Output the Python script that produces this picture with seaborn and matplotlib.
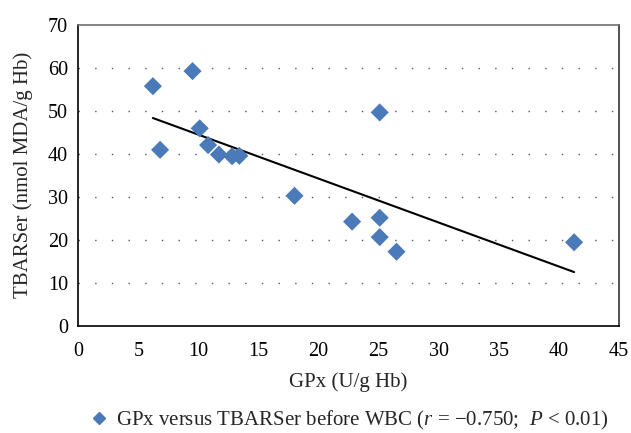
import numpy as np
import pandas as pd
import matplotlib
matplotlib.use("Agg")
import matplotlib.pyplot as plt
import seaborn as sns

gpx = [6.2, 9.5, 6.8, 10.1, 10.8, 11.7, 12.8, 13.4, 18.0, 22.8, 25.1, 25.1, 25.1, 26.5, 41.3]
tbarser = [55.7, 59.2, 40.9, 45.9, 42.0, 39.8, 39.4, 39.5, 30.2, 24.2, 49.6, 25.1, 20.6, 17.2, 19.4]
legend_label = "GPx versus TBARSer before WBC ($r$ = \u22120.750;  $P$ < 0.01)"
x_label = "GPx (U/g Hb)"
y_label = "TBARSer (nmol MDA/g Hb)"
x_ticks = list(range(0, 46, 5))
y_ticks = list(range(0, 71, 10))

df = pd.DataFrame({"GPx": gpx, "TBARSer": tbarser})

sns.set_style("white")
plt.rcParams["font.family"] = ["Liberation Serif", "DejaVu Serif"]
plt.rcParams["mathtext.fontset"] = "custom"
plt.rcParams["mathtext.rm"] = "Liberation Serif"
plt.rcParams["mathtext.it"] = "Liberation Serif:italic"

fig = plt.figure(figsize=(6.31, 4.33), dpi=100)
ax = fig.add_axes([0.1244, 0.2478, 0.8558, 0.6952])

blue = "#4a7ab7"
sns.regplot(data=df, x="GPx", y="TBARSer", ax=ax, scatter=False, ci=None,
            line_kws=dict(color="black", lw=1.5, zorder=2))
sns.scatterplot(data=df, x="GPx", y="TBARSer", ax=ax, marker="D", s=85,
                color=blue, edgecolor="none", zorder=3, legend=False)

ax.set_xlim(0, 45)
ax.set_ylim(0, 70)
ax.set_xticks(x_ticks)
ax.set_yticks(y_ticks)
ax.tick_params(axis="both", which="both", direction="out", length=4, width=1,
               labelsize=14.5, color="black", labelcolor="black")
ax.tick_params(axis="x", pad=7.5)
ax.tick_params(axis="y", pad=3.5)
for yv in y_ticks[1:-1]:
    ax.axhline(yv, color="#555555", lw=1.0, linestyle=(0, (1, 11)), zorder=1)

ax.spines["left"].set_color("black")
ax.spines["bottom"].set_color("black")
ax.spines["top"].set_color("#707070")
ax.spines["right"].set_color("#333333")
for sp in ax.spines.values():
    sp.set_linewidth(1.2)

ax.set_xlabel(x_label, fontsize=15, labelpad=8)
ax.set_ylabel(y_label, fontsize=15, labelpad=11)

handles = [plt.Line2D([], [], marker="D", color=blue, linestyle="none", markersize=6.5)]
fig.legend(handles, [legend_label], loc="center", bbox_to_anchor=(0.552, 0.03),
           frameon=False, fontsize=15, handletextpad=0.3, handlelength=1.0,
           borderpad=0.1)

fig.savefig("out.png", dpi=100)
